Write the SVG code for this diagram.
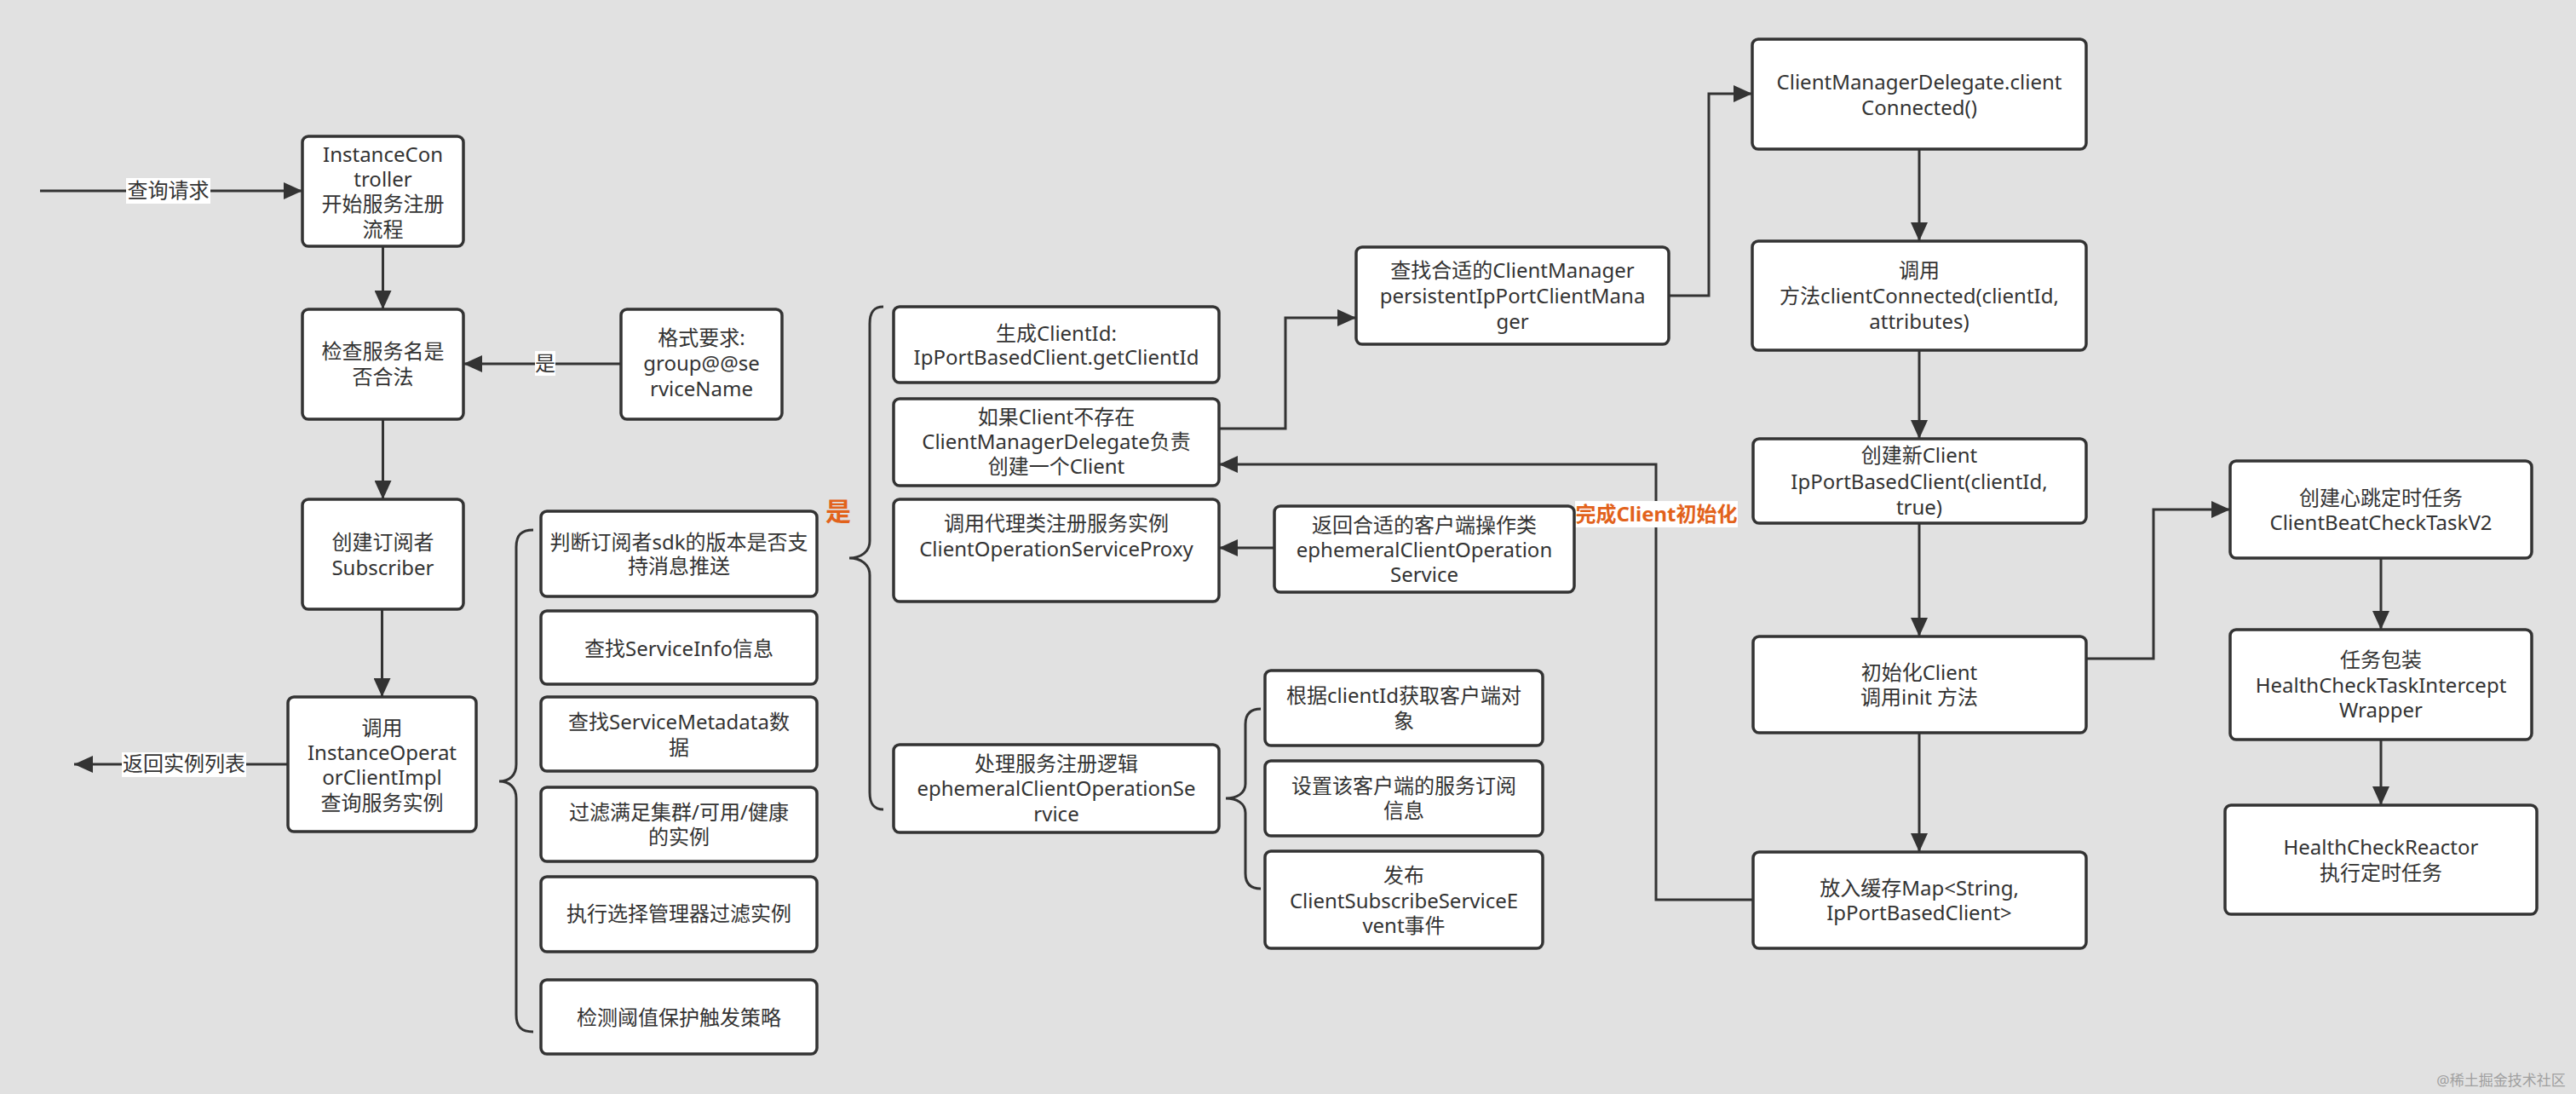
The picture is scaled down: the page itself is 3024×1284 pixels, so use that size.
<svg xmlns="http://www.w3.org/2000/svg" width="3024" height="1284" viewBox="0 0 3024 1284">
<defs>
<style>
.bg{fill:#e1e1e1}
.node rect{fill:#ffffff;stroke:#333333;stroke-width:3.5}
text{font-family:"Noto Sans","Noto Sans CJK SC",sans-serif;font-size:24px;fill:#333333;text-anchor:middle}
.conn path,.brace path{fill:none;stroke:#333333;stroke-width:3}
.lbl rect{fill:#ffffff;stroke:none}
.orange{fill:#e2621b;font-weight:bold}
.wm{fill:#a0a0a0;font-size:17px}
</style>
<marker id="arr" markerWidth="24" markerHeight="20" refX="22" refY="10" orient="auto" markerUnits="userSpaceOnUse">
<path d="M0,0 L22,10 L0,20 Z" fill="#333333"/>
</marker>
</defs>
<rect class="bg" x="0" y="0" width="3024" height="1284"/>

<g id="connectors" class="conn">
<path d="M47,224 L355,224" marker-end="url(#arr)"/>
<path d="M449.5,289 L449.5,363" marker-end="url(#arr)"/>
<path d="M729,427 L544,427" marker-end="url(#arr)"/>
<path d="M449.5,492 L449.5,586" marker-end="url(#arr)"/>
<path d="M448.5,715 L448.5,818" marker-end="url(#arr)"/>
<path d="M338,897 L87,897" marker-end="url(#arr)"/>
<path d="M1431,503 L1509,503 L1509,373 L1592,373" marker-end="url(#arr)"/>
<path d="M1959,347 L2006,347 L2006,110 L2057,110" marker-end="url(#arr)"/>
<path d="M2253,175 L2253,283" marker-end="url(#arr)"/>
<path d="M2253,411 L2253,515" marker-end="url(#arr)"/>
<path d="M2253,614 L2253,747" marker-end="url(#arr)"/>
<path d="M2253,860 L2253,1000" marker-end="url(#arr)"/>
<path d="M2058,1056 L1944,1056 L1944,545 L1431,545" marker-end="url(#arr)"/>
<path d="M1496,643 L1431,643" marker-end="url(#arr)"/>
<path d="M2449,773 L2528,773 L2528,598 L2618,598" marker-end="url(#arr)"/>
<path d="M2795,655 L2795,739" marker-end="url(#arr)"/>
<path d="M2795,868 L2795,945" marker-end="url(#arr)"/>
<g class="lbl">
<rect x="148" y="209" width="99" height="30"/>
<text x="197.5" y="232">查询请求</text>
<rect x="628" y="412" width="24" height="29"/>
<text x="640" y="435">是</text>
<rect x="143" y="883" width="146" height="29"/>
<text x="216" y="905">返回实例列表</text>
<rect x="1849" y="588" width="191" height="31"/>
<text class="orange" x="1944.5" y="612">完成Client初始化</text>
</g>
</g>

<g id="braces" class="brace">
<path d="M626,622 C612,622 606,628 606,642 L606,897 C606,910 598,917 586,917 C598,917 606,924 606,937 L606,1191 C606,1205 612,1211 626,1211"/>
<path d="M1037,360 C1026,360 1021,366 1021,380 L1021,635 C1021,648 1010,655 997,655 C1010,655 1021,662 1021,675 L1021,930 C1021,944 1026,950 1037,950"/>
<path d="M1480,832 C1468,832 1462,838 1462,850 L1462,920 C1462,931 1452,937 1439,937 C1452,937 1462,943 1462,954 L1462,1025 C1462,1037 1468,1043 1480,1043"/>
</g>
<text id="label-yes-orange" class="orange" x="984" y="611" style="font-size:30px">是</text>

<g id="n-instance-controller" class="node">
<rect x="355" y="160" width="189" height="129" rx="7"/>
<text x="449.5" y="190">InstanceCon</text>
<text x="449.5" y="219">troller</text>
<text x="449.5" y="248">开始服务注册</text>
<text x="449.5" y="278">流程</text>
</g>
<g id="n-check-name" class="node">
<rect x="355" y="363" width="189" height="129" rx="7"/>
<text x="449.5" y="421">检查服务名是</text>
<text x="449.5" y="451">否合法</text>
</g>
<g id="n-format" class="node">
<rect x="729" y="363" width="189" height="129" rx="7"/>
<text x="823.5" y="405">格式要求:</text>
<text x="823.5" y="435">group@@se</text>
<text x="823.5" y="465">rviceName</text>
</g>
<g id="n-subscriber" class="node">
<rect x="355" y="586" width="189" height="129" rx="7"/>
<text x="449.5" y="645">创建订阅者</text>
<text x="449.5" y="675">Subscriber</text>
</g>
<g id="n-operator" class="node">
<rect x="338" y="818" width="221" height="158" rx="7"/>
<text x="448.5" y="863">调用</text>
<text x="448.5" y="892">InstanceOperat</text>
<text x="448.5" y="921">orClientImpl</text>
<text x="448.5" y="951">查询服务实例</text>
</g>

<g id="n-sdk" class="node">
<rect x="635" y="600" width="324" height="100" rx="7"/>
<text x="797" y="645">判断订阅者sdk的版本是否支</text>
<text x="797" y="673">持消息推送</text>
</g>
<g id="n-serviceinfo" class="node">
<rect x="635" y="717" width="324" height="86" rx="7"/>
<text x="797" y="770">查找ServiceInfo信息</text>
</g>
<g id="n-metadata" class="node">
<rect x="635" y="818" width="324" height="87" rx="7"/>
<text x="797" y="856">查找ServiceMetadata数</text>
<text x="797" y="886">据</text>
</g>
<g id="n-filter" class="node">
<rect x="635" y="924" width="324" height="87" rx="7"/>
<text x="797" y="962">过滤满足集群/可用/健康</text>
<text x="797" y="991">的实例</text>
</g>
<g id="n-selector" class="node">
<rect x="635" y="1029" width="324" height="88" rx="7"/>
<text x="797" y="1081">执行选择管理器过滤实例</text>
</g>
<g id="n-threshold" class="node">
<rect x="635" y="1150" width="324" height="87" rx="7"/>
<text x="797" y="1203">检测阈值保护触发策略</text>
</g>

<g id="n-clientid" class="node">
<rect x="1049" y="360" width="382" height="89" rx="7"/>
<text x="1240" y="400">生成ClientId:</text>
<text x="1240" y="428">IpPortBasedClient.getClientId</text>
</g>
<g id="n-create-client" class="node">
<rect x="1049" y="468" width="382" height="102" rx="7"/>
<text x="1240" y="498">如果Client不存在</text>
<text x="1240" y="527">ClientManagerDelegate负责</text>
<text x="1240" y="556">创建一个Client</text>
</g>
<g id="n-proxy" class="node">
<rect x="1049" y="586" width="382" height="120" rx="7"/>
<text x="1240" y="623">调用代理类注册服务实例</text>
<text x="1240" y="653">ClientOperationServiceProxy</text>
</g>
<g id="n-handle" class="node">
<rect x="1049" y="874" width="382" height="103" rx="7"/>
<text x="1240" y="905">处理服务注册逻辑</text>
<text x="1240" y="934">ephemeralClientOperationSe</text>
<text x="1240" y="964">rvice</text>
</g>

<g id="n-get-client" class="node">
<rect x="1485" y="787" width="326" height="88" rx="7"/>
<text x="1648" y="825">根据clientId获取客户端对</text>
<text x="1648" y="855">象</text>
</g>
<g id="n-set-sub" class="node">
<rect x="1485" y="893" width="326" height="88" rx="7"/>
<text x="1648" y="931">设置该客户端的服务订阅</text>
<text x="1648" y="960">信息</text>
</g>
<g id="n-publish" class="node">
<rect x="1485" y="999" width="326" height="114" rx="7"/>
<text x="1648" y="1036">发布</text>
<text x="1648" y="1066">ClientSubscribeServiceE</text>
<text x="1648" y="1095">vent事件</text>
</g>

<g id="n-find-manager" class="node">
<rect x="1592" y="290" width="367" height="114" rx="7"/>
<text x="1775.5" y="326">查找合适的ClientManager</text>
<text x="1775.5" y="356">persistentIpPortClientMana</text>
<text x="1775.5" y="386">ger</text>
</g>
<g id="n-return-op" class="node">
<rect x="1496" y="594" width="352" height="101" rx="7"/>
<text x="1672" y="625">返回合适的客户端操作类</text>
<text x="1672" y="654">ephemeralClientOperation</text>
<text x="1672" y="683">Service</text>
</g>

<g id="n-delegate" class="node">
<rect x="2057" y="46" width="392" height="129" rx="7"/>
<text x="2253" y="105">ClientManagerDelegate.client</text>
<text x="2253" y="135">Connected()</text>
</g>
<g id="n-call-connected" class="node">
<rect x="2057" y="283" width="392" height="128" rx="7"/>
<text x="2253" y="326">调用</text>
<text x="2253" y="356">方法clientConnected(clientId,</text>
<text x="2253" y="386">attributes)</text>
</g>
<g id="n-new-client" class="node">
<rect x="2058" y="515" width="391" height="99" rx="7"/>
<text x="2253" y="543">创建新Client</text>
<text x="2253" y="574">IpPortBasedClient(clientId,</text>
<text x="2253" y="604">true)</text>
</g>
<g id="n-init-client" class="node">
<rect x="2058" y="747" width="391" height="113" rx="7"/>
<text x="2253" y="798">初始化Client</text>
<text x="2253" y="827">调用init 方法</text>
</g>
<g id="n-cache" class="node">
<rect x="2058" y="1000" width="391" height="113" rx="7"/>
<text x="2253" y="1051">放入缓存Map&lt;String,</text>
<text x="2253" y="1080">IpPortBasedClient&gt;</text>
</g>

<g id="n-beat-task" class="node">
<rect x="2618" y="541" width="354" height="114" rx="7"/>
<text x="2795" y="593">创建心跳定时任务</text>
<text x="2795" y="622">ClientBeatCheckTaskV2</text>
</g>
<g id="n-wrapper" class="node">
<rect x="2618" y="739" width="354" height="129" rx="7"/>
<text x="2795" y="783">任务包装</text>
<text x="2795" y="813">HealthCheckTaskIntercept</text>
<text x="2795" y="842">Wrapper</text>
</g>
<g id="n-reactor" class="node">
<rect x="2612" y="945" width="366" height="128" rx="7"/>
<text x="2795" y="1003">HealthCheckReactor</text>
<text x="2795" y="1033">执行定时任务</text>
</g>

<text class="wm" x="2936" y="1274">@稀土掘金技术社区</text>
</svg>
